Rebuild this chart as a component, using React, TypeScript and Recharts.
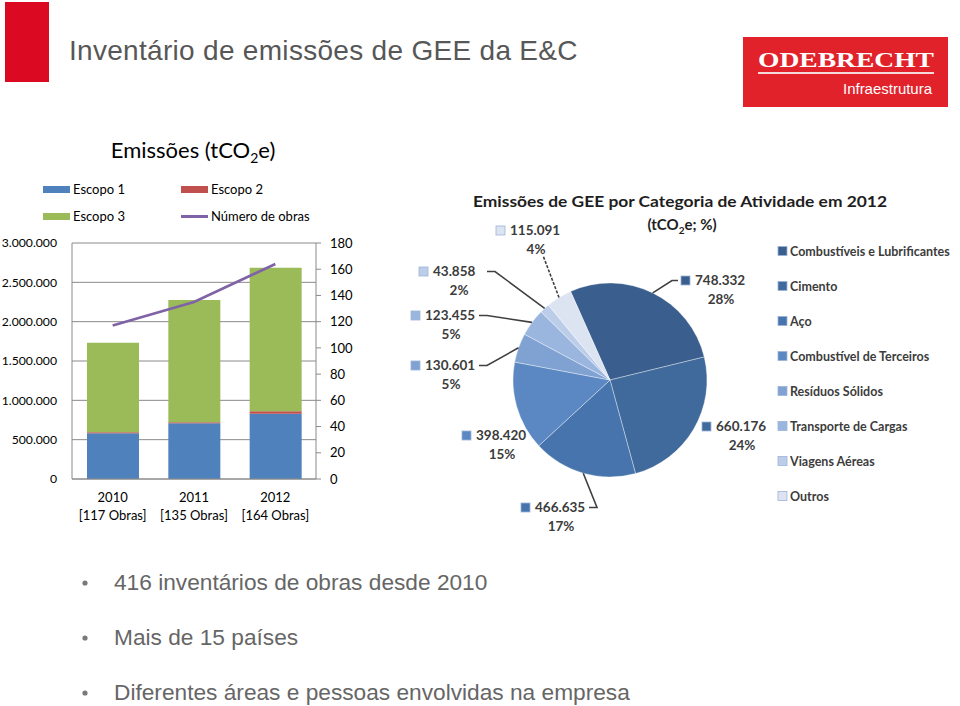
import { ComposedChart, Bar, Line, XAxis, YAxis, CartesianGrid, PieChart, Pie, Cell } from 'recharts';

// left chart: emissions by scope
const YEARS = ['2010', '2011', '2012'];
const OBRAS_LABELS = ['[117 Obras]', '[135 Obras]', '[164 Obras]'];
const ESCOPO1 = [580000, 708000, 830000];
const ESCOPO2 = [15000, 12000, 30000];
const ESCOPO3 = [1138000, 1555000, 1826568];
const NUM_OBRAS = [117, 135, 164];
const LEFT_TICKS = [0, 500000, 1000000, 1500000, 2000000, 2500000, 3000000];
const RIGHT_TICKS = [0, 20, 40, 60, 80, 100, 120, 140, 160, 180];

// right chart: 2012 emissions by activity
const CATEGORIES = [
  'Combustíveis e Lubrificantes',
  'Cimento',
  'Aço',
  'Combustível de Terceiros',
  'Resíduos Sólidos',
  'Transporte de Cargas',
  'Viagens Aéreas',
  'Outros',
];
const EMISSIONS_2012 = [748332, 660176, 466635, 398420, 130601, 123455, 43858, 115091];
const SHARE_LABELS = ['28%', '24%', '17%', '15%', '5%', '5%', '2%', '4%'];

const PIE_COLORS = ['#3a5e8e', '#40699c', '#4774ad', '#5b88c2', '#7fa2d2', '#9bb6de', '#bccde9', '#dce4f2'];

// where each data label block sits, relative to the pie centre
const LABEL_LAYOUT = [
  { dx: 104, dy: -90, leader: 'left' },
  { dx: 125, dy: 56, leader: 'none' },
  { dx: -56, dy: 137, leader: 'right' },
  { dx: -115, dy: 65, leader: 'none' },
  { dx: -166, dy: -5, leader: 'right' },
  { dx: -166, dy: -55, leader: 'right' },
  { dx: -158, dy: -99, leader: 'right' },
  { dx: -81, dy: -140, leader: 'below' },
];

const barData = YEARS.map((year, i) => ({
  year,
  e1: ESCOPO1[i],
  e2: ESCOPO2[i],
  e3: ESCOPO3[i],
  obras: NUM_OBRAS[i],
}));

const pieData = CATEGORIES.map((name, i) => ({ name, value: EMISSIONS_2012[i] }));

const fmt = (n: number) => String(n).replace(/\B(?=(\d{3})+(?!\d))/g, '.');

const FONT = "Lato, 'Open Sans', sans-serif";
const GRID = '#8a8a8a';

const YearTick = (props: any) => {
  const { x, y, payload, index } = props;
  return (
    <text x={x} y={y} textAnchor="middle" fontSize={13} fontFamily={FONT} fill="#000">
      <tspan x={x} dy={15}>{payload.value}</tspan>
      <tspan x={x} dy={18}>{OBRAS_LABELS[index]}</tspan>
    </text>
  );
};

const renderPieLabel = (props: any) => {
  const { cx, cy, midAngle, outerRadius, index } = props;
  const RAD = Math.PI / 180;
  const ex = cx + outerRadius * Math.cos(-midAngle * RAD);
  const ey = cy + outerRadius * Math.sin(-midAngle * RAD);
  const spot = LABEL_LAYOUT[index];
  const bx = cx + spot.dx;
  const by = cy + spot.dy;
  const vy = by - 9.5;
  const py = by + 9.5;
  let line = null;
  if (spot.leader === 'left') {
    const lx = bx - 36;
    line = <polyline points={`${ex},${ey} ${lx - 6},${vy} ${lx},${vy}`} fill="none" stroke="#404040" strokeWidth={1.6} />;
  } else if (spot.leader === 'right') {
    const lx = bx + 35;
    line = <polyline points={`${ex},${ey} ${lx + 8},${vy} ${lx},${vy}`} fill="none" stroke="#404040" strokeWidth={1.6} />;
  } else if (spot.leader === 'below') {
    line = <polyline points={`${ex},${ey} ${bx + 14},${py + 6}`} fill="none" stroke="#404040" strokeWidth={1.6} strokeDasharray="3 1.5" />;
  }
  return (
    <g key={`lbl-${index}`}>
      {line}
      <rect x={bx - 33} y={vy - 4.5} width={9} height={9} fill={PIE_COLORS[index]} stroke="#9db4d6" strokeWidth={0.8} />
      <text x={bx - 19} y={vy + 4.5} fontSize={13.5} fontWeight="bold" fontFamily={FONT} fill="#3c3c3c">
        {fmt(EMISSIONS_2012[index])}
      </text>
      <text x={bx + 7} y={py + 4.5} textAnchor="middle" fontSize={13.5} fontWeight="bold" fontFamily={FONT} fill="#3c3c3c">
        {SHARE_LABELS[index]}
      </text>
    </g>
  );
};

const Overlay = () => (
  <svg width={960} height={706} style={{ position: 'absolute', left: 0, top: 0 }}>
    {/* header */}
    <rect x={5} y={2} width={44} height={80} fill="#db0a22" />
    <text x={69} y={60} fontSize={28} fontFamily="'Liberation Sans', Arial, sans-serif" fill="#575757" letterSpacing={0.3}>
      Inventário de emissões de GEE da E&amp;C
    </text>
    <rect x={743} y={37} width={205} height={70} fill="#e1222b" />
    <text x={758} y={67} fontSize={21} fontWeight="bold" fontFamily="'Liberation Serif', serif" fill="#fff" textLength={176} lengthAdjust="spacingAndGlyphs">
      ODEBRECHT
    </text>
    <rect x={758} y={72} width={176} height={2} fill="#f6dadb" />
    <text x={843} y={94} fontSize={14.5} fontFamily="'Liberation Sans', Arial, sans-serif" fill="#fff" textLength={89} lengthAdjust="spacingAndGlyphs">
      Infraestrutura
    </text>

    {/* left chart title + legend */}
    <text x={193} y={158} textAnchor="middle" fontSize={22} fontFamily={FONT} fill="#000">
      Emissões (tCO<tspan fontSize={14} dy={5}>2</tspan><tspan dy={-5}>e)</tspan>
    </text>
    <rect x={43} y={186} width={27} height={7} fill="#4f81bd" />
    <text x={73} y={194} fontSize={13} fontFamily={FONT} fill="#000">Escopo 1</text>
    <rect x={181} y={186} width={27} height={7} fill="#c0504d" />
    <text x={211} y={194} fontSize={13} fontFamily={FONT} fill="#000">Escopo 2</text>
    <rect x={43} y={213} width={27} height={7} fill="#9bbb59" />
    <text x={73} y={221} fontSize={13} fontFamily={FONT} fill="#000">Escopo 3</text>
    <line x1={181} y1={216.5} x2={208} y2={216.5} stroke="#7f63a6" strokeWidth={3} />
    <text x={211} y={221} fontSize={13} fontFamily={FONT} fill="#000">Número de obras</text>

    {/* pie title */}
    <text x={680} y={207} textAnchor="middle" fontSize={15} fontWeight="bold" fontFamily={FONT} fill="#1e1e1e" textLength={414} lengthAdjust="spacingAndGlyphs">
      Emissões de GEE por Categoria de Atividade  em 2012
    </text>
    <text x={682} y={230} textAnchor="middle" fontSize={15} fontWeight="bold" fontFamily={FONT} fill="#1e1e1e">
      (tCO<tspan fontSize={10} dy={4}>2</tspan><tspan dy={-4}>e; %)</tspan>
    </text>

    {/* pie legend */}
    {CATEGORIES.map((name, i) => (
      <g key={name}>
        <rect x={778} y={251 + i * 35 - 4.5} width={9} height={9} fill={PIE_COLORS[i]} stroke="#9db4d6" strokeWidth={0.8} />
        <text x={790} y={251 + i * 35 + 4.5} fontSize={12.5} fontWeight="bold" fontFamily={FONT} fill="#3c3c3c">
          {name}
        </text>
      </g>
    ))}

    {/* bullets */}
    {['416 inventários de obras desde 2010', 'Mais de 15 países', 'Diferentes áreas e pessoas envolvidas na empresa'].map((t, i) => (
      <g key={t}>
        <circle cx={85} cy={583 + i * 55} r={2.6} fill="#7a7a7a" />
        <text x={114} y={590 + i * 55} fontSize={22.7} fontFamily="'Liberation Sans', Arial, sans-serif" fill="#666">
          {t}
        </text>
      </g>
    ))}
  </svg>
);

export default function App() {
  return (
    <div style={{ position: 'absolute', left: 0, top: 0, width: 960, height: 706, background: '#fff', overflow: 'hidden' }}>
      <Overlay />
      <div style={{ position: 'absolute', left: 0, top: 230 }}>
        <ComposedChart width={400} height={300} data={barData} margin={{ top: 13, right: 0, left: 0, bottom: 0 }}>
          <CartesianGrid vertical={false} stroke={GRID} yAxisId="left" />
          <XAxis dataKey="year" height={51} axisLine={{ stroke: GRID }} tickLine={false} tick={(p: any) => <YearTick {...p} />} interval={0} />
          <YAxis
            yAxisId="left"
            width={72}
            domain={[0, 3000000]}
            ticks={LEFT_TICKS}
            tickFormatter={(v: number) => fmt(v)}
            axisLine={{ stroke: GRID }}
            tickLine={false}
            tickSize={0}
            tickMargin={15}
            tick={{ fontSize: 12.2, fontFamily: FONT, fill: '#000' }}
          />
          <YAxis
            yAxisId="right"
            orientation="right"
            width={84}
            domain={[0, 180]}
            ticks={RIGHT_TICKS}
            axisLine={{ stroke: GRID }}
            tickLine={{ stroke: GRID }}
            tickSize={5}
            tickMargin={9}
            tick={{ fontSize: 13, fontFamily: FONT, fill: '#000' }}
          />
          <Bar yAxisId="left" dataKey="e1" stackId="s" fill="#4f81bd" barSize={52} isAnimationActive={false} />
          <Bar yAxisId="left" dataKey="e2" stackId="s" fill="#c0504d" barSize={52} isAnimationActive={false} />
          <Bar yAxisId="left" dataKey="e3" stackId="s" fill="#9bbb59" barSize={52} isAnimationActive={false} />
          <Line yAxisId="right" type="linear" dataKey="obras" stroke="#7f63a6" strokeWidth={2.6} dot={false} isAnimationActive={false} />
        </ComposedChart>
      </div>
      <div style={{ position: 'absolute', left: 400, top: 180 }}>
        <PieChart width={560} height={370} margin={{ top: 0, right: 0, bottom: 0, left: 0 }}>
          <Pie
            data={pieData}
            dataKey="value"
            nameKey="name"
            cx={210}
            cy={200}
            outerRadius={97}
            startAngle={114}
            endAngle={-246}
            stroke="rgba(255,255,255,0.45)"
            strokeWidth={0.8}
            label={renderPieLabel}
            labelLine={false}
            isAnimationActive={false}
          >
            {pieData.map((d, i) => (
              <Cell key={d.name} fill={PIE_COLORS[i]} />
            ))}
          </Pie>
        </PieChart>
      </div>
    </div>
  );
}
